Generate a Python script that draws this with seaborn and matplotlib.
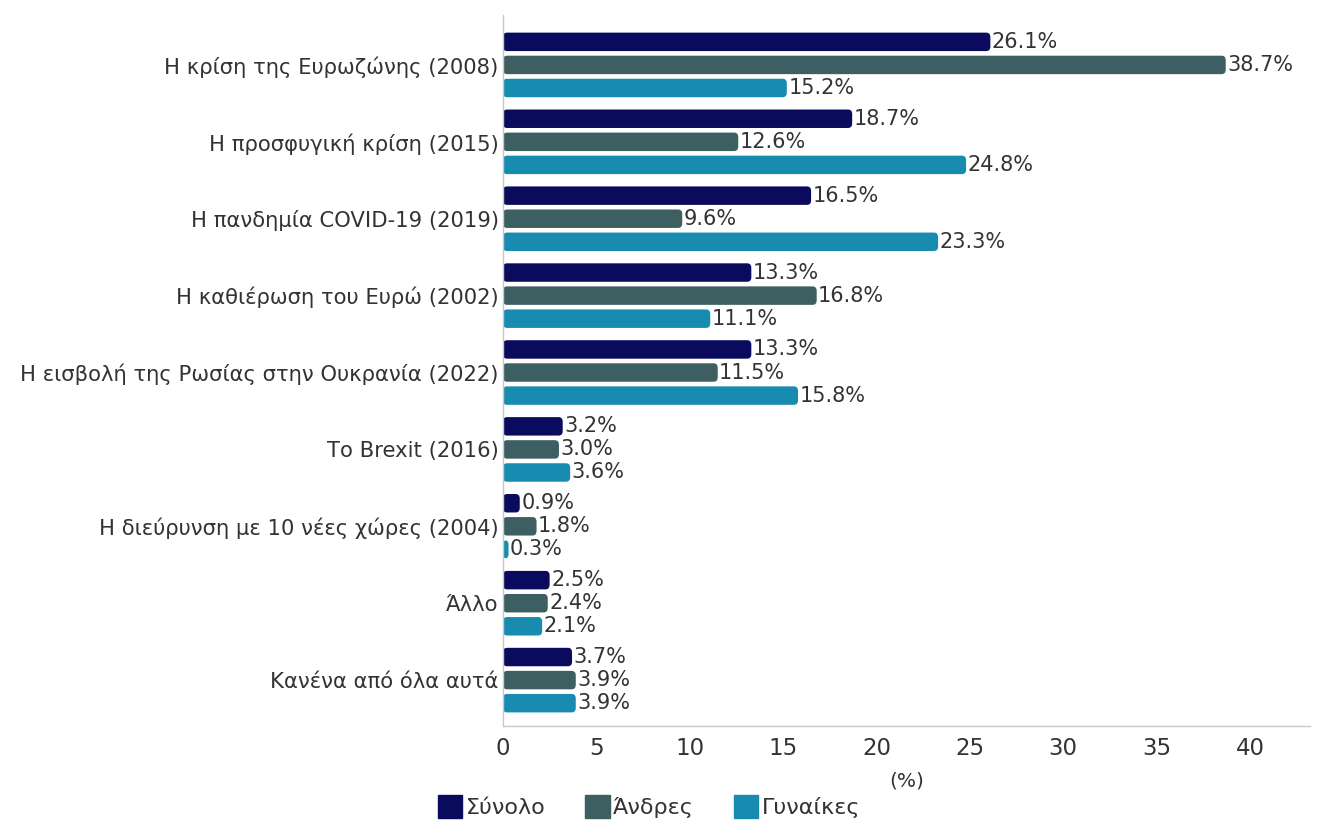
import pandas as pd
import numpy as np
import matplotlib
matplotlib.use("Agg")
import matplotlib.pyplot as plt
from matplotlib.patches import FancyBboxPatch
import seaborn as sns

# Δεδομένα
katigories = [
    "Η κρίση της Ευρωζώνης (2008)",
    "Η προσφυγική κρίση (2015)",
    "Η πανδημία COVID-19 (2019)",
    "Η καθιέρωση του Ευρώ (2002)",
    "Η εισβολή της Ρωσίας στην Ουκρανία (2022)",
    "Το Brexit (2016)",
    "Η διεύρυνση με 10 νέες χώρες (2004)",
    "Άλλο",
    "Κανένα από όλα αυτά",
]
omades = ["Σύνολο", "Άνδρες", "Γυναίκες"]
synolo = [26.1, 18.7, 16.5, 13.3, 13.3, 3.2, 0.9, 2.5, 3.7]
andres = [38.7, 12.6, 9.6, 16.8, 11.5, 3.0, 1.8, 2.4, 3.9]
gynaikes = [15.2, 24.8, 23.3, 11.1, 15.8, 3.6, 0.3, 2.1, 3.9]
xrwmata = ["#0b0b5e", "#3d5f61", "#178bb0"]

df = pd.DataFrame({
    "katigoria": katigories * 3,
    "omada": np.repeat(omades, len(katigories)),
    "timi": synolo + andres + gynaikes,
})

sns.set_style("white")
plt.rcParams["font.family"] = ["DejaVu Sans"]
keimeno = "#333333"

fig, ax = plt.subplots(figsize=(13.27, 8.3), dpi=100)
fig.subplots_adjust(left=0.379, right=0.987, top=0.982, bottom=0.125)

sns.barplot(data=df, x="timi", y="katigoria", hue="omada", order=katigories,
            hue_order=omades, palette=xrwmata, saturation=1, width=0.9,
            gap=0.2, orient="h", ax=ax, legend=True, linewidth=0)

ax.set_xlim(0, 43.2)
ax.set_ylim(8.6, -0.65)

# στρογγυλεμένες άκρες στις μπάρες
for cont in ax.containers:
    for p in cont.patches:
        x0, y0 = p.get_x(), p.get_y()
        w, h = p.get_width(), p.get_height()
        p.set_visible(False)
        ax.add_patch(FancyBboxPatch((x0, y0), w, h,
                                    boxstyle="round,pad=0,rounding_size=0.22",
                                    mutation_aspect=0.27,
                                    facecolor=p.get_facecolor(),
                                    edgecolor="none"))
    ax.bar_label(cont, labels=[f"{v:.1f}%" for v in cont.datavalues],
                 padding=1, fontsize=15, color=keimeno)

ax.set_xticks(range(0, 45, 5))
ax.tick_params(axis="x", labelsize=16.5, colors=keimeno, length=0, pad=8)
ax.tick_params(axis="y", labelsize=15.2, colors=keimeno, length=0, pad=3)
ax.set_ylabel("")
ax.set_xlabel("(%)", fontsize=14.5, color=keimeno, labelpad=8)

for s in ["top", "right"]:
    ax.spines[s].set_visible(False)
for s in ["left", "bottom"]:
    ax.spines[s].set_color("#c8c8c8")
    ax.spines[s].set_linewidth(1)

ax.get_legend().remove()
handles = [plt.Rectangle((0, 0), 1, 1, color=c) for c in xrwmata]
fig.legend(handles, omades, loc="lower center", ncol=3, frameon=False,
           bbox_to_anchor=(0.489, -0.01), fontsize=16, handlelength=1.1,
           handleheight=1.2, handletextpad=0.15, columnspacing=1.8,
           labelcolor=keimeno)

fig.savefig("out.png", dpi=100, facecolor="white")
